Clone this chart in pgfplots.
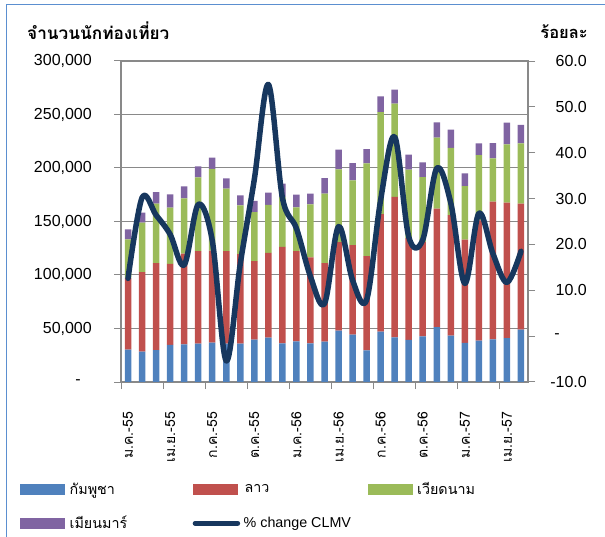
\documentclass[border=0pt]{standalone}
\usepackage{fontspec}
\usepackage{pgfplots}
\usepackage{pgfplotstable}
\pgfplotsset{compat=1.18}
\setmainfont{Liberation Sans}
\newfontfamily\thaifont[Script=Thai]{Loma}
\definecolor{cblue}{HTML}{4F81BD}
\definecolor{cred}{HTML}{C0504D}
\definecolor{cgreen}{HTML}{9BBB59}
\definecolor{cpurple}{HTML}{8064A2}
\definecolor{cline}{HTML}{17375E}
\definecolor{gridgray}{HTML}{898989}
\definecolor{frameblue}{HTML}{5B8FD0}
\pgfplotstableread{
x blue red green purple pct
0 30200 66800 36300 9400 12.6
1 28400 74400 46100 9300 30.2
2 29900 81300 55500 10700 26.4
3 34600 75700 52700 12400 22.2
4 35200 84800 51600 11250 15.5
5 35800 86600 68900 10250 28.7
6 36800 86000 76300 10550 20.9
7 35800 86600 58400 9550 -5.4
8 35800 83700 45500 9450 15.8
9 39600 73400 45700 10600 34.2
10 41400 79200 45000 11500 54.9
11 36100 90100 46700 12450 30.2
12 38000 84400 40800 11860 23.5
13 36100 80400 49500 10000 13.0
14 37700 73500 64800 14600 7.1
15 48000 82800 67900 18400 23.9
16 44200 83800 60450 16200 12.2
17 29600 88100 86650 13350 7.9
18 47000 110000 95300 14700 29.7
19 41700 131200 87200 13100 43.5
20 39300 95200 63900 14000 21.7
21 42700 88300 60570 13730 21.0
22 51400 110600 66300 14350 36.6
23 43300 112700 62700 17100 29.0
24 36500 96600 50050 11850 11.5
25 38600 112400 61100 10900 26.8
26 39900 128600 40500 14300 18.0
27 41100 126500 54500 20250 11.7
28 48900 117800 56300 17200 18.5
}\datatable
\pgfplotsset{
  mybarlegend/.style={legend image code/.code={\fill[##1] (0bp,-5.7bp) rectangle (45bp,5.7bp);}},
}
\newcommand\tfont{\fontsize{16bp}{19bp}\selectfont}
\begin{document}
\begin{tikzpicture}
\useasboundingbox (0,0) rectangle (605bp,537bp);
\draw[frameblue, line width=1.5bp] (6.5bp,0) -- (6.5bp,532.5bp) -- (605bp,532.5bp);
\begin{axis}[
  at={(121bp,155bp)}, anchor=south west,
  scale only axis, width=407bp, height=321bp,
  xmin=-0.5, xmax=28.5, ymin=0, ymax=300000,
  scaled y ticks=false,
  ybar stacked, bar width=6.5bp,
  tick pos=left, tick align=outside,
  major tick length=7bp,
  axis line style={gridgray, line width=1.2bp},
  tick style={gridgray, line width=1bp},
  ymajorgrids, grid style={gridgray, line width=1bp},
  ytick={0,50000,100000,150000,200000,250000,300000},
  yticklabels={-\kern11bp,{50,000},{100,000},{150,000},{200,000},{250,000},{300,000}},
  yticklabel style={font=\tfont, anchor=east, inner sep=0pt, xshift=-22bp},
  xtick={-0.5,2.5,5.5,8.5,11.5,14.5,17.5,20.5,23.5,26.5},
  xticklabels={},
  extra x ticks={0,3,6,9,12,15,18,21,24,27},
  extra x tick labels={ม.ค.-55,เม.ย.-55,ก.ค.-55,ต.ค.-55,ม.ค.-56,เม.ย.-56,ก.ค.-56,ต.ค.-56,ม.ค.-57,เม.ย.-57},
  extra x tick style={major tick length=0pt, xticklabel style={yshift=-30bp, rotate=90, anchor=east, inner sep=0pt, font=\thaifont\fontsize{14bp}{16bp}\selectfont}},
  legend columns=3,
  legend cell align=left,
  legend style={draw=none, fill=none, at={(-0.2482,-0.305)}, anchor=north west,
    font=\fontsize{14.3bp}{17bp}\selectfont, inner sep=0pt, column sep=0pt, row sep=15bp,
    nodes={inner sep=2.5bp}},
]
\addplot[fill=cblue, draw=none, mybarlegend] table[x=x, y=blue]{\datatable};
\addlegendentry{\makebox[122.5bp][l]{\kern2bp\thaifont กัมพูชา}}
\addplot[fill=cred, draw=none, mybarlegend] table[x=x, y=red]{\datatable};
\addlegendentry{\makebox[122.5bp][l]{\kern2bp\thaifont ลาว}}
\addplot[fill=cgreen, draw=none, mybarlegend] table[x=x, y=green]{\datatable};
\addlegendentry{\makebox[122.5bp][l]{\kern2bp\thaifont เวียดนาม}}
\addplot[fill=cpurple, draw=none, mybarlegend] table[x=x, y=purple]{\datatable};
\addlegendentry{\makebox[122.5bp][l]{\kern2bp\thaifont เมียนมาร์}}
\addlegendimage{legend image code/.code={\draw[cline, line width=5bp, line cap=round] (2.5bp,0) -- (45bp,0);}}
\addlegendentry{\makebox[122.5bp][l]{\kern1bp\% change CLMV}}
\end{axis}
\begin{axis}[
  at={(121bp,155bp)}, anchor=south west,
  scale only axis, width=407bp, height=321bp,
  xmin=-0.5, xmax=28.5, ymin=-10, ymax=60,
  axis x line=none, axis y line*=right,
  tick align=outside, major tick length=7bp,
  axis line style={gridgray, line width=1.2bp},
  tick style={gridgray, line width=1bp},
  ytick={-10,0,10,20,30,40,50,60},
  yticklabels={-10.0,-\kern27bp,10.0,20.0,30.0,40.0,50.0,60.0},
  yticklabel style={font=\tfont, anchor=east, inner sep=0pt, xshift=52bp},
]
\addplot[cline, line width=5.5bp, smooth, tension=0.55, line join=round, line cap=round] table[x=x, y=pct]{\datatable};
\end{axis}
\node[anchor=base west, inner sep=0pt, font=\thaifont\bfseries\fontsize{17.2bp}{20bp}\selectfont] at (27bp,497bp) {จำนวนนักท่องเที่ยว};
\node[anchor=base east, inner sep=0pt, font=\thaifont\bfseries\fontsize{16.5bp}{19bp}\selectfont] at (588bp,498bp) {ร้อยละ};
\end{tikzpicture}
\end{document}
